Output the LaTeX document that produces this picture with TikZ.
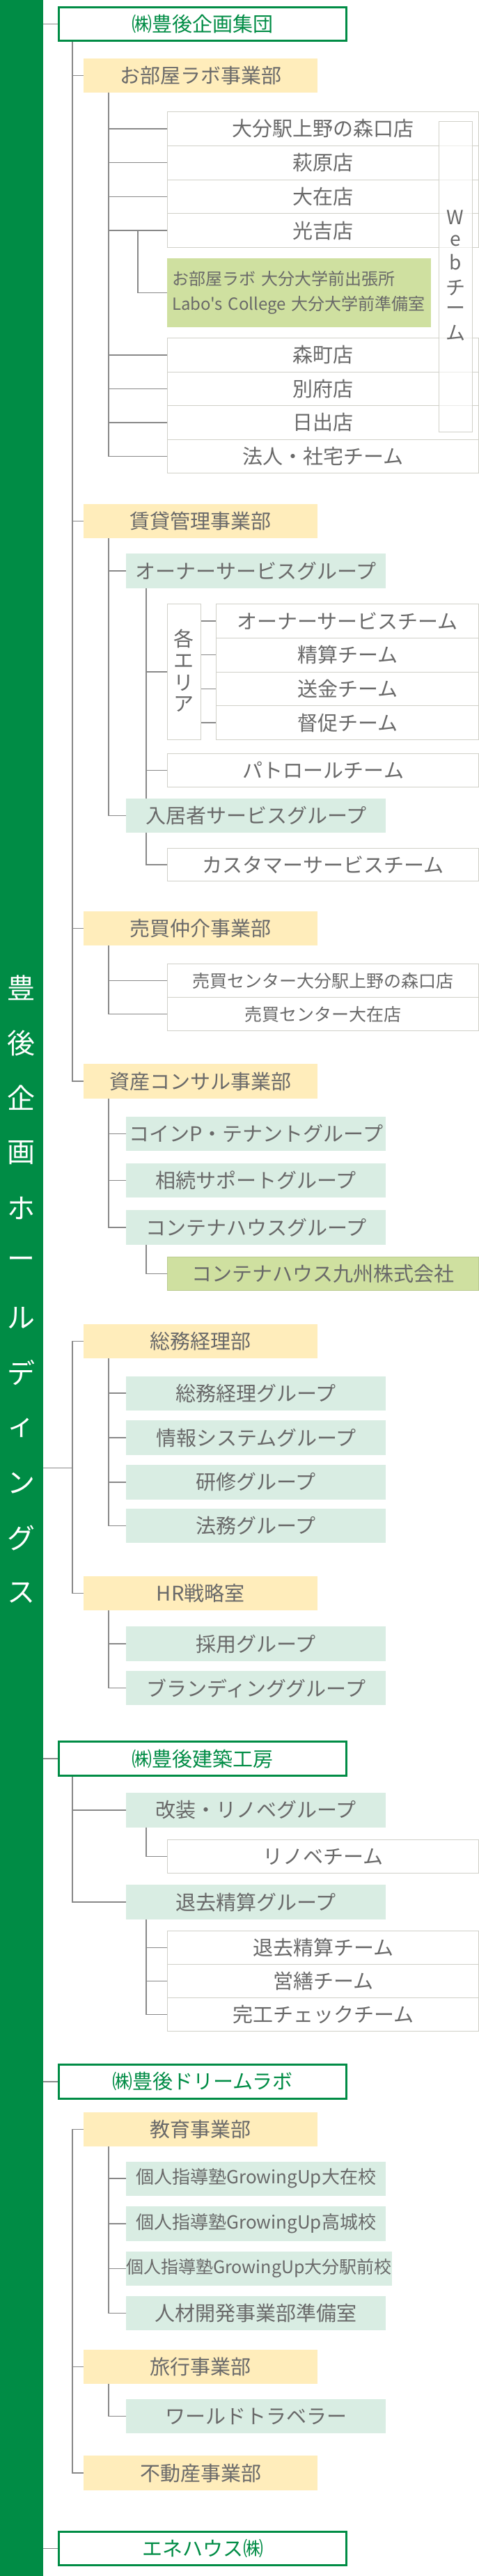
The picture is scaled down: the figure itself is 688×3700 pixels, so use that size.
\documentclass[tikz,border=0pt]{standalone}
\usepackage{fontspec}
\newfontfamily\jp{Noto Sans CJK JP}
\definecolor{hgreen}{RGB}{0,140,69}
\definecolor{txt}{RGB}{105,105,105}
\definecolor{deptc}{RGB}{255,237,187}
\definecolor{grpc}{RGB}{217,237,227}
\definecolor{subc}{RGB}{207,224,160}
\definecolor{bordc}{RGB}{208,208,200}
\definecolor{connc}{RGB}{136,136,136}
\newcommand{\fs}[1]{\fontsize{#1}{#1}\selectfont}
\tikzset{
 base/.style={inner sep=0pt, anchor=north west, font=\jp\fs{29}, text=txt},
 dept/.style={base, fill=deptc, minimum width=336pt},
 grp/.style={base, fill=grpc, minimum width=373pt},
 team/.style={base, fill=white, draw=bordc, line width=1.2pt, minimum width=447pt},
 ateam/.style={team, minimum width=377pt},
 comp/.style={base, fill=white, draw=hgreen, line width=3pt, minimum width=413pt, text=hgreen},
 conn/.style={draw=connc, line width=1.5pt},
 bartext/.style={inner sep=0pt, font=\jp\fs{40}, text=white}
}
\begin{document}
\begin{tikzpicture}[x=1pt,y=-1pt]
\useasboundingbox (0,0) rectangle (688,3700);
\fill[hgreen] (0,0) rectangle (61.5,3700);
\coordinate (X5) at (61.5,0);
\coordinate (X1) at (104,0);
\coordinate (X2) at (156,0);
\coordinate (X3) at (210,0);
\coordinate (X4) at (198,0);
\coordinate (m1) at (104,2108.7);

% company 1
\node[comp, minimum height=48pt] (c1) at (83,9) {㈱豊後企画集団};
\node[dept, minimum height=49pt] (d1) at (120,84) {お部屋ラボ事業部};
\node[team, minimum height=48.75pt] (s1) at (240,160) {大分駅上野の森口店};
\node[team, minimum height=48.75pt] (s2) at (240,208.75) {萩原店};
\node[team, minimum height=48.75pt] (s3) at (240,257.5) {大在店};
\node[team, minimum height=48.75pt] (s4) at (240,306.25) {光吉店};
\node[base, fill=subc, minimum width=379pt, minimum height=99pt, text width=365pt, inner xsep=7pt, align=left, font=\jp\fontsize{24}{36}\selectfont] (gs) at (240,371) {お部屋ラボ 大分大学前出張所\\Labo's College 大分大学前準備室};
\node[team, minimum height=48.5pt] (s5) at (240,485) {森町店};
\node[team, minimum height=48.5pt] (s6) at (240,533.5) {別府店};
\node[team, minimum height=48.5pt] (s7) at (240,582) {日出店};
\node[team, minimum height=48.5pt] (s8) at (240,630.5) {法人・社宅チーム};
\node[base, fill=white, fill opacity=0.6, draw=bordc, line width=1.2pt, minimum width=48pt, minimum height=446pt] (web) at (630,174) {};
\foreach \ch/\yy [count=\i] in {W/312,e/346,b/377,チ/413,ー/446,ム/478}
  \node[inner sep=0pt, font=\jp\fs{28}, text=txt] (wt\i) at (654,\yy) {\ch};

\node[dept, minimum height=49.5pt] (d2) at (120,723.5) {賃貸管理事業部};
\node[grp, minimum height=50pt] (g1) at (181,795) {オーナーサービスグループ};
\node[base, fill=white, draw=bordc, line width=1.2pt, minimum width=48pt, minimum height=195pt] (ea) at (240,867) {};
\foreach \ch/\yy [count=\i] in {各/917,エ/950,リ/981,ア/1011}
  \node[inner sep=0pt, font=\jp\fs{29}, text=txt] (ea\i) at (264,\yy) {\ch};
\node[ateam, minimum height=48.75pt] (t1) at (310,867) {オーナーサービスチーム};
\node[ateam, minimum height=48.75pt] (t2) at (310,915.75) {精算チーム};
\node[ateam, minimum height=48.75pt] (t3) at (310,964.5) {送金チーム};
\node[ateam, minimum height=48.75pt] (t4) at (310,1013.25) {督促チーム};
\node[team, minimum height=48pt] (pt) at (240,1082) {パトロールチーム};
\node[grp, minimum height=49pt] (g2) at (181,1147) {入居者サービスグループ};
\node[team, minimum height=47pt] (cs) at (240,1218) {カスタマーサービスチーム};

\node[dept, minimum height=49pt] (d3) at (120,1309) {売買仲介事業部};
\node[team, minimum height=48pt, font=\jp\fs{25}] (b1) at (240,1384) {売買センター大分駅上野の森口店};
\node[team, minimum height=48pt, font=\jp\fs{25}] (b2) at (240,1432) {売買センター大在店};

\node[dept, minimum height=50pt] (d4) at (120,1528) {資産コンサル事業部};
\node[grp, minimum height=49.5pt] (g3) at (181,1603.5) {コインP・テナントグループ};
\node[grp, minimum height=49pt] (g4) at (181,1671) {相続サポートグループ};
\node[grp, minimum height=50pt] (g5) at (181,1738) {コンテナハウスグループ};
\node[base, fill=subc, draw=subc!90!black, line width=0.8pt, minimum width=447pt, minimum height=48pt] (ck) at (240,1805) {コンテナハウス九州株式会社};

\node[dept, minimum height=49.5pt] (d5) at (120,1901.5) {総務経理部};
\node[grp, minimum height=49pt] (g6) at (181,1976.5) {総務経理グループ};
\node[grp, minimum height=50pt] (g7) at (181,2040) {情報システムグループ};
\node[grp, minimum height=49.5pt] (g8) at (181,2104) {研修グループ};
\node[grp, minimum height=49pt] (g9) at (181,2167) {法務グループ};
\node[dept, minimum height=48.5pt] (d6) at (120,2264) {HR戦略室};
\node[grp, minimum height=50pt] (g10) at (181,2336) {採用グループ};
\node[grp, minimum height=49pt] (g11) at (181,2400) {ブランディンググループ};

\node[comp, minimum height=49pt] (c2) at (83,2500) {㈱豊後建築工房};
\node[grp, minimum height=49.5pt] (g12) at (181,2575) {改装・リノベグループ};
\node[team, minimum height=48pt] (rt) at (240,2642) {リノベチーム};
\node[grp, minimum height=50pt] (g13) at (181,2707) {退去精算グループ};
\node[team, minimum height=47.5pt] (k1) at (240,2773) {退去精算チーム};
\node[team, minimum height=48.5pt] (k2) at (240,2820.5) {営繕チーム};
\node[team, minimum height=48pt] (k3) at (240,2869) {完工チェックチーム};

\node[comp, minimum height=48.5pt] (c3) at (83,2964) {㈱豊後ドリームラボ};
\node[dept, minimum height=49pt] (d7) at (120,3034) {教育事業部};
\node[grp, minimum height=49pt, font=\jp\fs{26}] (e1) at (181,3104.5) {個人指導塾GrowingUp大在校};
\node[grp, minimum height=50pt, font=\jp\fs{26}] (e2) at (181,3169) {個人指導塾GrowingUp高城校};
\node[grp, minimum height=49.5pt, font=\jp\fs{25}] (e3) at (181,3233.5) {個人指導塾GrowingUp大分駅前校};
\node[grp, minimum height=49pt] (e4) at (181,3298) {人材開発事業部準備室};
\node[dept, minimum height=49pt] (d8) at (120,3375) {旅行事業部};
\node[grp, minimum height=49.5pt] (wt) at (181,3445.5) {ワールドトラベラー};
\node[dept, minimum height=50pt] (d9) at (120,3527) {不動産事業部};

\node[comp, minimum height=48pt] (c4) at (83,3635) {エネハウス㈱};

% bar text
\foreach \ch [count=\i] in {豊,後,企,画,ホ,ー,ル,デ,ィ,ン,グ,ス}
  \node[bartext] (bt\i) at (30.75,{1419+79*(\i-1)}) {\ch};

% connectors
\foreach \c in {c1,c2,c3,c4} \draw[conn] (X5 |- \c.west) -- (\c.west);
\draw[conn] (X5 |- m1) -- (m1);
\draw[conn] (X1 |- c1.south) |- (d4.west);
\foreach \d in {d1,d2,d3} \draw[conn] (X1 |- \d.west) -- (\d.west);
\draw[conn] (X2 |- d1.south) |- (s8.west);
\foreach \s in {s1,s2,s3,s4,s5,s6,s7} \draw[conn] (X2 |- \s.west) -- (\s.west);
\draw[conn] (X4 |- s4.west) |- (gs.west);
\draw[conn] (X2 |- d2.south) |- (g2.west);
\draw[conn] (X2 |- g1.west) -- (g1.west);
\draw[conn] (X3 |- g1.south) -- (X3 |- g2.north);
\draw[conn] (X3 |- ea.west) -- (ea.west);
\draw[conn] (X3 |- pt.west) -- (pt.west);
\foreach \t in {t1,t2,t3,t4} \draw[conn] (ea.east |- \t.west) -- (\t.west);
\draw[conn] (X3 |- g2.south) |- (cs.west);
\draw[conn] (X2 |- d3.south) |- (b2.west);
\draw[conn] (X2 |- b1.west) -- (b1.west);
\draw[conn] (X2 |- d4.south) |- (g5.west);
\foreach \g in {g3,g4} \draw[conn] (X2 |- \g.west) -- (\g.west);
\draw[conn] (X3 |- g5.south) |- (ck.west);
\draw[conn] (d5.west) -- (X1 |- d5.west) -- (X1 |- d6.west) -- (d6.west);
\draw[conn] (X2 |- d5.south) |- (g9.west);
\foreach \g in {g6,g7,g8} \draw[conn] (X2 |- \g.west) -- (\g.west);
\draw[conn] (X2 |- d6.south) |- (g11.west);
\draw[conn] (X2 |- g10.west) -- (g10.west);
\draw[conn] (X1 |- c2.south) |- (g13.west);
\draw[conn] (X1 |- g12.west) -- (g12.west);
\draw[conn] (X3 |- g12.south) |- (rt.west);
\draw[conn] (X3 |- g13.south) |- (k3.west);
\foreach \k in {k1,k2} \draw[conn] (X3 |- \k.west) -- (\k.west);
\draw[conn] (d7.west) -- (X1 |- d7.west) -- (X1 |- d9.west) -- (d9.west);
\draw[conn] (X1 |- d8.west) -- (d8.west);
\draw[conn] (X2 |- d7.south) |- (e4.west);
\foreach \e in {e1,e2,e3} \draw[conn] (X2 |- \e.west) -- (\e.west);
\draw[conn] (X2 |- d8.south) |- (wt.west);
\end{tikzpicture}
\end{document}
